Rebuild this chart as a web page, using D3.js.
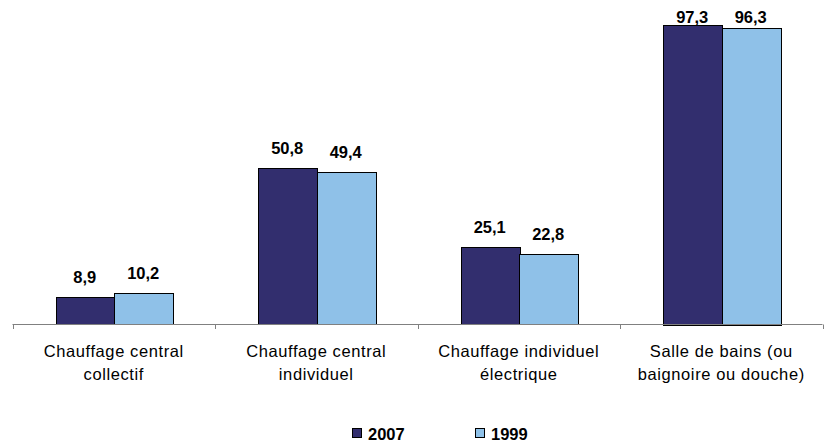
<!DOCTYPE html>
<html><head><meta charset="utf-8">
<script src="https://cdn.jsdelivr.net/npm/d3@7"></script>
<style>body{margin:0;background:#fff}svg{display:block;font-family:"Liberation Sans",Arial,sans-serif}</style>
</head><body>
<svg id="c" width="827" height="443"></svg>
<script>
const categories = [["Chauffage central","collectif"],["Chauffage central","individuel"],["Chauffage individuel","électrique"],["Salle de bains (ou","baignoire ou douche)"]];
const series = ["2007","1999"];
const values2007 = [8.9, 50.8, 25.1, 97.3];
const values1999 = [10.2, 49.4, 22.8, 96.3];
const colors = ["#322E6E","#8FC1E8"];

const svg = d3.select("#c");
const catIdx = categories.map((d,i)=>i);
const x0 = d3.scaleBand().domain(catIdx).range([12.5, 822.5]).padding(0);
const x1 = d3.scaleBand().domain(series).range([43, 160]);
const y = d3.scaleLinear().domain([0,100]).range([324.5, 16.5]);
const fmt = v => d3.format(".1f")(v).replace(".", ",");
const data = [values2007, values1999];

const g = svg.append("g");
catIdx.forEach(i => {
  series.forEach((s, si) => {
    const v = data[si][i];
    const bx = x0(i) + x1(s);
    g.append("rect")
      .attr("x", Math.round(bx)+0.5).attr("y", Math.round(y(v))+0.5)
      .attr("width", Math.round(x1.bandwidth())).attr("height", Math.round(y(0) - y(v)))
      .attr("fill", colors[si]).attr("stroke", "#000").attr("stroke-width", 1);
    g.append("text")
      .attr("x", bx + x1.bandwidth()/2).attr("y", Math.max(y(v) - 14, 22.5))
      .attr("text-anchor","middle").attr("font-weight","bold").attr("font-size", 16.5)
      .attr("fill","#000").text(fmt(v));
  });
});

// axis
const axis = svg.append("g");
axis.append("line").attr("x1", 12.5).attr("x2", 822.5).attr("y1", 324.5).attr("y2", 324.5).attr("stroke","#808080");
const ticks = catIdx.map(i=>x0(i)).concat([x0.range()[1]]);
ticks.forEach(t => axis.append("line").attr("x1", Math.round(t)+0.5).attr("x2", Math.round(t)+0.5).attr("y1",324.5).attr("y2",329).attr("stroke","#808080"));
catIdx.forEach(i => {
  const cx = x0(i) + x0.bandwidth()/2;
  categories[i].forEach((line, li) => {
    axis.append("text").attr("x", cx).attr("y", 356.5 + li*23)
      .attr("text-anchor","middle").attr("font-size", 16.5).attr("letter-spacing", 0.6)
      .attr("fill","#000").text(line);
  });
});

// legend
const leg = svg.append("g");
const legX = [352, 475];
series.forEach((s, si) => {
  leg.append("rect").attr("x", legX[si]+0.5).attr("y", 428.5).attr("width", 9).attr("height", 9)
    .attr("fill", colors[si]).attr("stroke","#000");
  leg.append("text").attr("x", legX[si] + 16).attr("y", 440).attr("font-weight","bold")
    .attr("font-size", 16.5).attr("fill","#000").text(s);
});
</script>
</body></html>
